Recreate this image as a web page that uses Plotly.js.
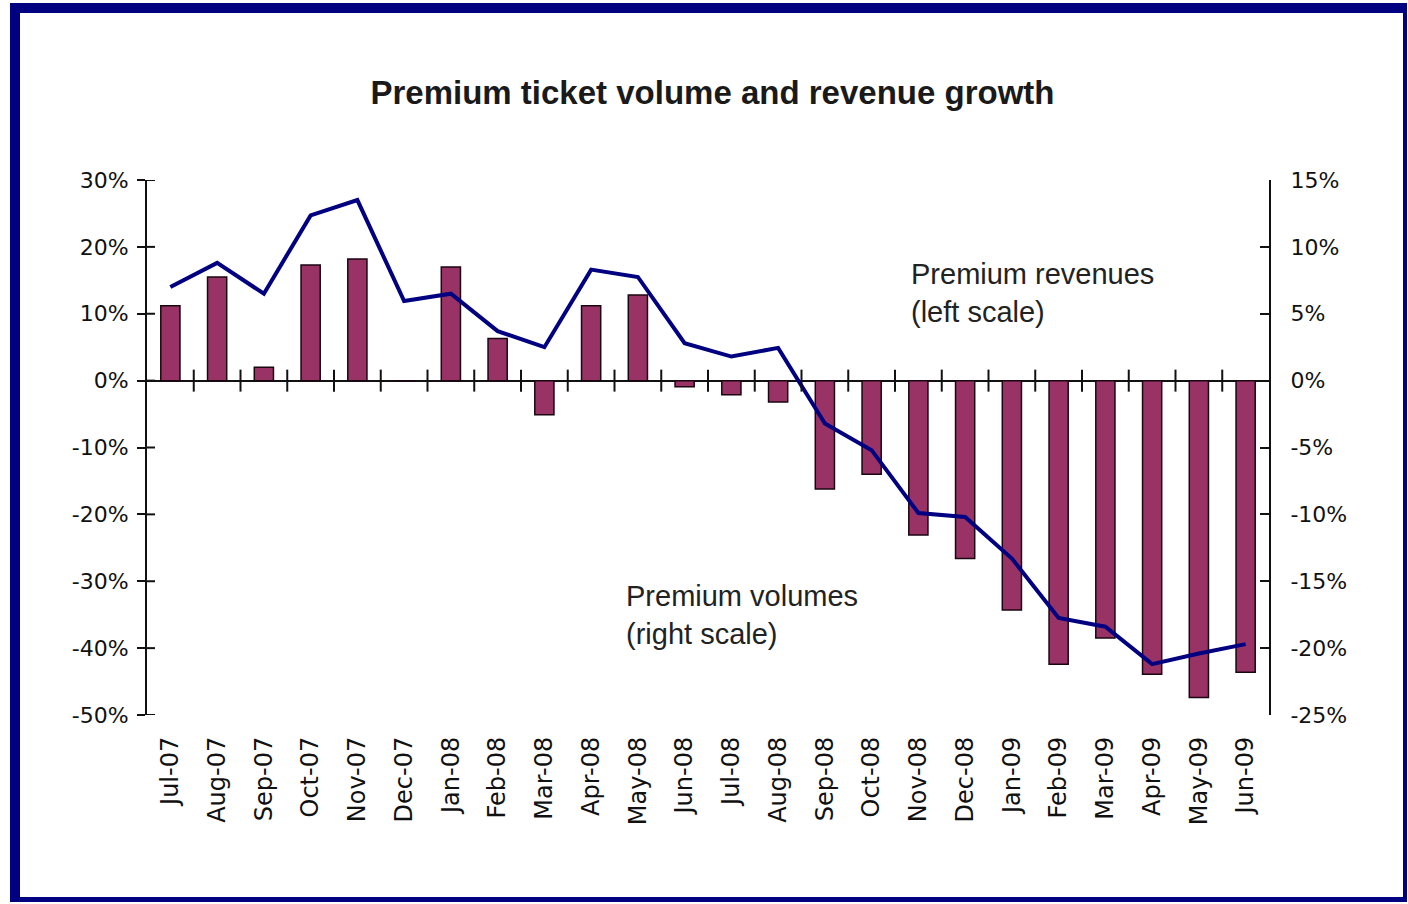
<!DOCTYPE html>
<html>
<head>
<meta charset="utf-8">
<script src="https://cdn.plot.ly/plotly-3.0.1.min.js"></script>
<style>
  html, body { margin: 0; padding: 0; background: #ffffff; }
  #wrap { position: relative; width: 1408px; height: 904px; overflow: hidden; }
  #frame { position: absolute; left: 10px; top: 3px; width: 1383px; height: 884px;
           border-left: 10px solid #000080; border-top: 10px solid #000080;
           border-right: 4px solid #000080; border-bottom: 5px solid #000080; background: #fff; }
  #chart { position: absolute; left: 0; top: 0; width: 1408px; height: 904px; }
</style>
</head>
<body>
<div id="wrap">
  <div id="frame"></div>
  <div id="chart"></div>
</div>
<script>
// Categories (months)
const months = ["Jul-07","Aug-07","Sep-07","Oct-07","Nov-07","Dec-07","Jan-08","Feb-08","Mar-08","Apr-08","May-08","Jun-08",
                "Jul-08","Aug-08","Sep-08","Oct-08","Nov-08","Dec-08","Jan-09","Feb-09","Mar-09","Apr-09","May-09","Jun-09"];

// Premium revenues growth (bars, left scale)
const premiumRevenues = [0.112, 0.155, 0.020, 0.173, 0.182, 0.000, 0.170, 0.063, -0.051, 0.112, 0.128, -0.009,
                         -0.021, -0.032, -0.162, -0.140, -0.231, -0.266, -0.343, -0.424, -0.385, -0.439, -0.474, -0.436];

// Premium volumes growth (line, right scale)
const premiumVolumes = [0.070, 0.088, 0.065, 0.1235, 0.135, 0.0595, 0.065, 0.037, 0.025, 0.083, 0.0775, 0.028,
                        0.018, 0.0245, -0.032, -0.052, -0.099, -0.102, -0.133, -0.1775, -0.184, -0.212, -0.204, -0.197];

// Axis tick values
const leftTicks = [-0.5, -0.4, -0.3, -0.2, -0.1, 0, 0.1, 0.2, 0.3];
const leftTickText = ["-50%", "-40%", "-30%", "-20%", "-10%", "0%", "10%", "20%", "30%"];
const rightTicks = [-0.25, -0.2, -0.15, -0.1, -0.05, 0, 0.05, 0.1, 0.15];
const rightTickText = ["-25%", "-20%", "-15%", "-10%", "-5%", "0%", "5%", "10%", "15%"];

const leftRange = [-0.5, 0.3];
const rightRange = [-0.25, 0.15];
const catRange = [-0.5, months.length - 0.5];

const font = "Liberation Sans, Arial, sans-serif";
const tickFont = "DejaVu Sans, Liberation Sans, sans-serif";
const axisColor = "#111";

// Tick marks crossing the zero line at category boundaries
const boundaryTicks = months.slice(1).map((m, i) => ({
  type: "line", xref: "x", yref: "y",
  x0: i + 0.5, x1: i + 0.5,
  ysizemode: "pixel", yanchor: 0, y0: -11, y1: 11,
  line: { color: axisColor, width: 2 }
}));
// Inner half of the left axis ticks (outer half is drawn by the axis)
const leftInnerTicks = leftTicks.map(v => ({
  type: "line", xref: "paper", yref: "y",
  xsizemode: "pixel", xanchor: 0, x0: 0, x1: 8,
  y0: v, y1: v,
  line: { color: axisColor, width: 2 }
}));

const traces = [
  {
    type: "bar",
    x: months,
    y: premiumRevenues,
    name: "Premium revenues (left scale)",
    marker: { color: "#993366", line: { color: "#1a0610", width: 1.5 } },
    width: 0.41,
    xaxis: "x",
    yaxis: "y"
  },
  {
    type: "scatter",
    mode: "lines",
    x: months,
    y: premiumVolumes,
    name: "Premium volumes (right scale)",
    line: { color: "#000080", width: 4 },
    xaxis: "x",
    yaxis: "y2"
  }
];

const layout = {
  width: 1408,
  height: 904,
  paper_bgcolor: "rgba(0,0,0,0)",
  plot_bgcolor: "rgba(0,0,0,0)",
  showlegend: false,
  margin: { l: 147, r: 139, t: 180, b: 189, pad: 0 },
  title: {
    text: "<b>Premium ticket volume and revenue growth</b>",
    font: { family: font, size: 33, color: "#1a1a1a" },
    x: 0.506, xanchor: "center",
    y: 0.898, yanchor: "middle"
  },
  xaxis: {
    type: "category",
    categoryorder: "array",
    categoryarray: months,
    range: catRange,
    showline: false,
    showgrid: false,
    zeroline: false,
    ticks: "",
    tickangle: -90,
    tickfont: { family: tickFont, size: 24, color: "#111" },
    ticklabelstandoff: 16
  },
  yaxis: {
    range: leftRange,
    tickmode: "array",
    tickvals: leftTicks,
    ticktext: leftTickText,
    ticks: "outside",
    ticklen: 8,
    tickwidth: 2,
    tickcolor: axisColor,
    showline: true,
    linecolor: axisColor,
    linewidth: 2,
    showgrid: false,
    zeroline: true,
    zerolinecolor: axisColor,
    zerolinewidth: 2,
    tickfont: { family: tickFont, size: 22, color: "#111" },
    ticklabelstandoff: 4
  },
  yaxis2: {
    overlaying: "y",
    side: "right",
    anchor: "x",
    range: rightRange,
    tickmode: "array",
    tickvals: rightTicks,
    ticktext: rightTickText,
    ticks: "inside",
    ticklen: 9,
    tickwidth: 2,
    tickcolor: axisColor,
    showline: true,
    linecolor: axisColor,
    linewidth: 2,
    showgrid: false,
    zeroline: false,
    tickfont: { family: tickFont, size: 22, color: "#111" },
    ticklabelstandoff: 15
  },
  shapes: boundaryTicks.concat(leftInnerTicks),
  annotations: [
    {
      text: "Premium revenues<br>(left scale)",
      xref: "x", yref: "y",
      x: months.indexOf("Nov-08") - 0.21, y: 0.1306,
      xanchor: "left", yanchor: "middle", align: "left",
      showarrow: false,
      font: { family: font, size: 29, color: "#222" }
    },
    {
      text: "Premium volumes<br>(right scale)",
      xref: "x", yref: "y",
      x: months.indexOf("May-08") - 0.30, y: -0.350,
      xanchor: "left", yanchor: "middle", align: "left",
      showarrow: false,
      font: { family: font, size: 29, color: "#222" }
    }
  ]
};

Plotly.newPlot("chart", traces, layout, { displayModeBar: false, staticPlot: true });
</script>
</body>
</html>
